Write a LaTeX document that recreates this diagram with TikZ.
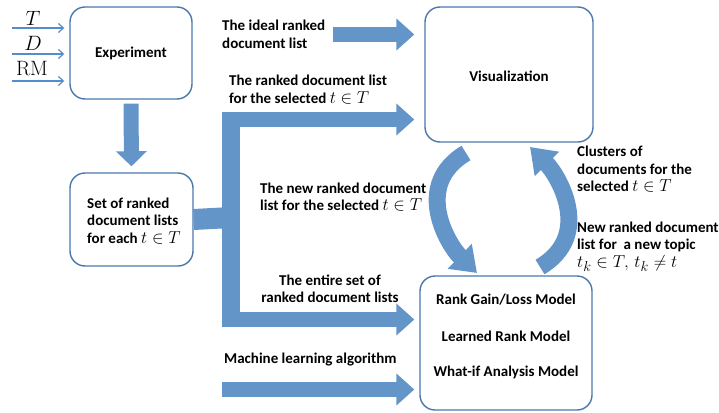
\documentclass[tikz,border=0pt]{standalone}
\usepackage[no-math]{fontspec}
\setmainfont{Carlito}
\usetikzlibrary{arrows.meta}
\definecolor{arrc}{RGB}{99,149,201}
\definecolor{boxc}{RGB}{74,120,172}
\definecolor{inc}{RGB}{84,141,204}
\newcommand\mth[1]{{\fontsize{19}{17}\selectfont$#1$}}
\begin{document}
\begin{tikzpicture}[x=1pt,y=-1pt,
  box/.style={draw=boxc,line width=1.4pt,rounded corners=15pt,fill=white,inner sep=0pt},
  lbl/.style={inner sep=0pt,font=\fontsize{15}{17.5}\selectfont\bfseries,align=left},
  blk/.style={draw=arrc,line width=15pt,-{Triangle[width=31pt,length=18pt]}},
  bar/.style={draw=arrc,line cap=butt},
  arc/.style={draw=arrc,line width=17pt,-{Triangle[width=33pt,length=24pt]}},
  thinarr/.style={draw=inc,line width=1.2pt,-{Straight Barb[length=5pt,width=9pt]}},
  inl/.style={inner sep=0pt,font=\fontsize{20}{20}\selectfont}]
\useasboundingbox (0,0) rectangle (719,412);
% boxes
\node[box,minimum width=122pt,minimum height=92pt] (exp) at (131,53) {};
\node[lbl] (exptxt) at (exp.center) {Experiment};
\node[box,minimum width=123pt,minimum height=93pt] (set) at (131.5,219.5) {};
\node[lbl,anchor=west] (settxt) at (87,221) {Set of ranked\\document lists\\for each \mth{t\in T}};
\node[box,minimum width=168pt,minimum height=135pt] (vis) at (509,74.5) {};
\node[lbl] (vistxt) at (509,76) {Visualization};
\node[box,minimum width=172pt,minimum height=134pt] (model) at (506,343) {};
\node[lbl] (m1) at (506,300) {Rank Gain/Loss Model};
\node[lbl] (m2) at (506,336) {Learned Rank Model};
\node[lbl] (m3) at (506,372) {What-if Analysis Model};
% inputs
\coordinate (in1) at (12,28);
\coordinate (in2) at (12,54);
\coordinate (in3) at (12,81);
\draw[thinarr] (in1) -- ([xshift=-5pt]exp.west |- in1);
\draw[thinarr] (in2) -- ([xshift=-5pt]exp.west |- in2);
\draw[thinarr] (in3) -- ([xshift=-5pt]exp.west |- in3);
\node[inl] (lT) at (33,18) {$T$};
\node[inl] (lD) at (33,43) {$D$};
\node[inl] (lRM) at (32,68) {$\mathrm{RM}$};
% down arrow
\draw[draw=arrc,line width=15pt,-{Triangle[width=30pt,length=15pt]},shorten <=4pt,shorten >=6pt] (exp.south) -- (set.north);
% branching connector
\coordinate (jn) at (231,217.5);
\coordinate (jt) at (231,112);
\coordinate (jb) at (231,327);
\coordinate (ht) at (222,119.5);
\coordinate (hb) at (222,319.5);
\draw[bar,line width=21pt] (set.east) -- (jn);
\draw[bar,line width=18pt] (jt) -- (jb);
\draw[blk] (ht) -- ([xshift=-10pt]vis.west |- ht);
\draw[blk] (hb) -- ([xshift=-5pt]model.west |- hb);
% machine learning
\coordinate (ml) at (222,389.5);
\draw[blk] (ml) -- ([xshift=-5pt]model.west |- ml);
% ideal
\coordinate (id) at (333,34.5);
\draw[blk] (id) -- ([xshift=-10pt]vis.west |- id);
% curved arrows
\coordinate (a1s) at (466,153);
\coordinate (a1e) at (477,273);
\coordinate (a2s) at (540,267);
\coordinate (a2e) at (530,147);
\draw[arc] (a1s) .. controls (412,185) and (448,245) .. (a1e);
\draw[arc] (a2s) .. controls (594,235) and (558,175) .. (a2e);
% labels
\node[lbl,anchor=west] (t1) at (222,34.5) {The ideal ranked\\document list};
\node[lbl,anchor=west] (t2) at (229,89.5) {The ranked document list\\for the selected \mth{t\in T}};
\node[lbl,anchor=west] (t3) at (260,197) {The new ranked document\\list for the selected \mth{t\in T}};
\node[lbl,anchor=west] (t4) at (577,169.5) {Clusters of\\documents for the\\selected \mth{t\in T}};
\node[lbl,anchor=west] (t5) at (577,246.5) {New ranked document\\list for\ \ a new topic\\\mth{t_k\in T,\, t_k\neq t}};
\node[lbl,align=center] (t6) at (330,289) {The entire set of\\ranked document lists};
\node[lbl,anchor=west] (t7) at (224,360) {Machine learning algorithm};
\end{tikzpicture}
\end{document}
